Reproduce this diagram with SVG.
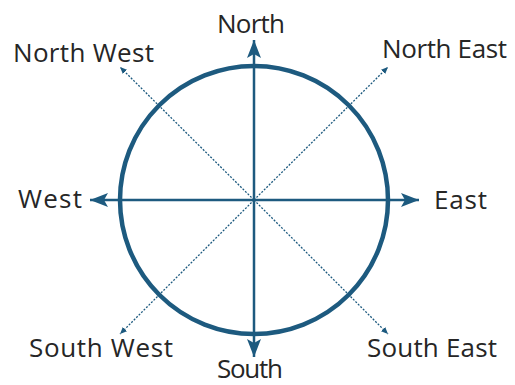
<svg xmlns="http://www.w3.org/2000/svg" width="515" height="385" viewBox="0 0 515 385">
<style>
text{font-family:"Open Sans","Noto Sans",sans-serif;font-size:26px;fill:#262626;text-anchor:middle}
.axis{stroke:#1d5a7f;stroke-width:2.5;fill:none}
.diag{stroke:#1d5a7f;stroke-width:1.3;stroke-dasharray:2 1.5;fill:none}
.ring{stroke:#1d5a7f;stroke-width:4.5;fill:none}
</style>
<defs>
<marker id="big" viewBox="0 0 18 14" refX="18" refY="7" markerWidth="18" markerHeight="14" markerUnits="userSpaceOnUse" orient="auto"><path d="M0,0L18,7L0,14L4,7Z" fill="#1d5a7f"/></marker>
<marker id="small" viewBox="0 0 7 6" refX="7" refY="3" markerWidth="7" markerHeight="6" markerUnits="userSpaceOnUse" orient="auto"><path d="M0,0L7,3L0,6Z" fill="#1d5a7f"/></marker>
</defs>
<g id="compass-ring"><circle class="ring" cx="254" cy="200" r="134"/></g>
<g id="connectors">
<line class="axis" x1="254" y1="200" x2="254" y2="40" marker-end="url(#big)"/>
<line class="axis" x1="254" y1="200" x2="254" y2="357" marker-end="url(#big)"/>
<line class="axis" x1="254" y1="200" x2="90" y2="200" marker-end="url(#big)"/>
<line class="axis" x1="254" y1="200" x2="419" y2="200" marker-end="url(#big)"/>
<line class="diag" x1="254" y1="200" x2="120" y2="67" marker-end="url(#small)"/>
<line class="diag" x1="254" y1="200" x2="388" y2="67" marker-end="url(#small)"/>
<line class="diag" x1="254" y1="200" x2="120" y2="334" marker-end="url(#small)"/>
<line class="diag" x1="254" y1="200" x2="388" y2="334" marker-end="url(#small)"/>
</g>
<g id="north"><text x="251" y="33" textLength="68">North</text></g>
<g id="north-west"><text x="83.5" y="62" textLength="141">North West</text></g>
<g id="north-east"><text x="444.5" y="58" textLength="125">North East</text></g>
<g id="west"><text x="50" y="208" textLength="64">West</text></g>
<g id="east"><text x="460.5" y="209" textLength="53">East</text></g>
<g id="south-west"><text x="101" y="357" textLength="144">South West</text></g>
<g id="south"><text x="250" y="378" textLength="66">South</text></g>
<g id="south-east"><text x="432" y="357" textLength="130">South East</text></g>
</svg>
